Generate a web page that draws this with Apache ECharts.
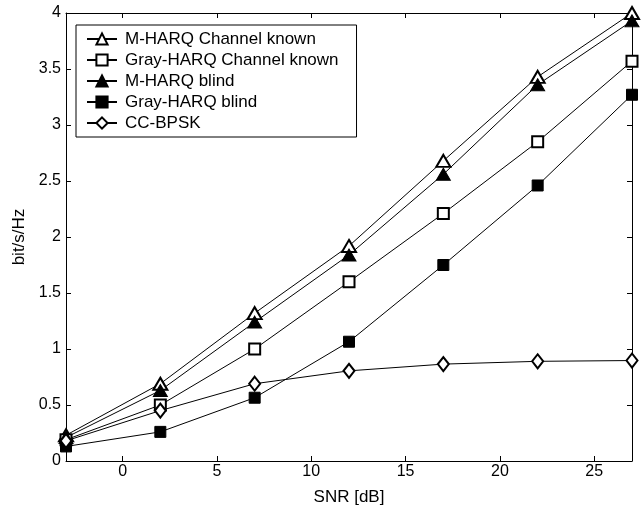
<!DOCTYPE html>
<html>
<head>
<meta charset="utf-8">
<script src="https://cdn.jsdelivr.net/npm/echarts@6/dist/echarts.min.js"></script>
<style>
  html, body { margin: 0; padding: 0; background: #fff; }
  #chart { width: 641px; height: 508px; }
</style>
</head>
<body>
<div id="chart"></div>
<script>
// SNR points (dB)
const snr = [-3, 2, 7, 12, 17, 22, 27]
const mHarqKnown = [0.23, 0.69, 1.32, 1.92, 2.68, 3.43, 4.0]
const grayHarqKnown = [0.19, 0.5, 1.0, 1.6, 2.21, 2.85, 3.57]
const mHarqBlind = [0.21, 0.63, 1.24, 1.84, 2.56, 3.36, 3.93]
const grayHarqBlind = [0.13, 0.26, 0.565, 1.065, 1.75, 2.46, 3.27]
const ccBpsk = [0.18, 0.45, 0.69, 0.805, 0.865, 0.89, 0.897]

const xTicks = [0, 5, 10, 15, 20, 25]
const seriesNames = ['M-HARQ Channel known', 'Gray-HARQ Channel known', 'M-HARQ blind', 'Gray-HARQ blind', 'CC-BPSK']

const font = 'Liberation Sans, Arial, Helvetica, sans-serif'

const pairs = (ys) => snr.map((x, i) => [x, ys[i]])

const mkSeries = (name, ys, symbol, size) => ({
  name: name,
  type: 'line',
  data: pairs(ys),
  symbol: symbol,
  symbolSize: size,
  showAllSymbol: true,
  lineStyle: { color: '#000', width: 1 },
  itemStyle: { color: '#000', borderColor: '#000', borderWidth: 1 },
  emphasis: { disabled: true },
  animation: false,
  clip: false,
})

const chart = echarts.init(document.getElementById('chart'))
chart.setOption({
  backgroundColor: '#fff',
  animation: false,
  textStyle: { fontFamily: font },
  grid: { left: 66, right: 9, top: 13, bottom: 47, outerBoundsMode: 'none', containLabel: false },
  legend: {
    orient: 'vertical',
    left: 76,
    top: 25,
    padding: [4, 18, 4, 10],
    itemGap: 1,
    itemWidth: 30,
    itemHeight: 14,
    borderColor: '#000',
    borderWidth: 1,
    backgroundColor: '#fff',
    data: seriesNames,
    textStyle: { fontFamily: font, fontSize: 17, lineHeight: 20, color: '#000', padding: [0, 0, 0, 3] },
  },
  xAxis: [
    {
      type: 'value',
      min: -3,
      max: 27,
      name: 'SNR [dB]',
      nameLocation: 'middle',
      nameGap: 28,
      nameTextStyle: { fontSize: 17, color: '#000' },
      axisLine: { onZero: false, lineStyle: { color: '#000', width: 1 } },
      axisTick: { inside: true, length: 5, customValues: xTicks, lineStyle: { color: '#000' } },
      axisLabel: { customValues: xTicks, fontSize: 16, color: '#000', margin: 3 },
      splitLine: { show: false },
    },
    {
      type: 'value',
      min: -3,
      max: 27,
      position: 'top',
      axisLine: { onZero: false, lineStyle: { color: '#000', width: 1 } },
      axisTick: { inside: true, length: 5, customValues: xTicks, lineStyle: { color: '#000' } },
      axisLabel: { show: false },
      splitLine: { show: false },
    },
  ],
  yAxis: [
    {
      type: 'value',
      min: 0,
      max: 4,
      interval: 0.5,
      name: 'bit/s/Hz',
      nameLocation: 'middle',
      nameGap: 37,
      nameTextStyle: { fontSize: 17, color: '#000' },
      axisLine: { show: true, onZero: false, lineStyle: { color: '#000', width: 1 } },
      axisTick: { show: true, inside: true, length: 5, lineStyle: { color: '#000' } },
      axisLabel: { fontSize: 16, color: '#000', margin: 5 },
      splitLine: { show: false },
    },
    {
      type: 'value',
      min: 0,
      max: 4,
      interval: 0.5,
      position: 'right',
      axisLine: { show: true, onZero: false, lineStyle: { color: '#000', width: 1 } },
      axisTick: { show: true, inside: true, length: 5, lineStyle: { color: '#000' } },
      axisLabel: { show: false },
      splitLine: { show: false },
    },
  ],
  series: [
    mkSeries(seriesNames[0], mHarqKnown, 'emptyTriangle', [14, 12]),
    mkSeries(seriesNames[1], grayHarqKnown, 'emptyRect', 11),
    mkSeries(seriesNames[2], mHarqBlind, 'triangle', [14, 12]),
    mkSeries(seriesNames[3], grayHarqBlind, 'rect', 11),
    mkSeries(seriesNames[4], ccBpsk, 'emptyDiamond', [11, 14]),
  ],
})
</script>
</body>
</html>
